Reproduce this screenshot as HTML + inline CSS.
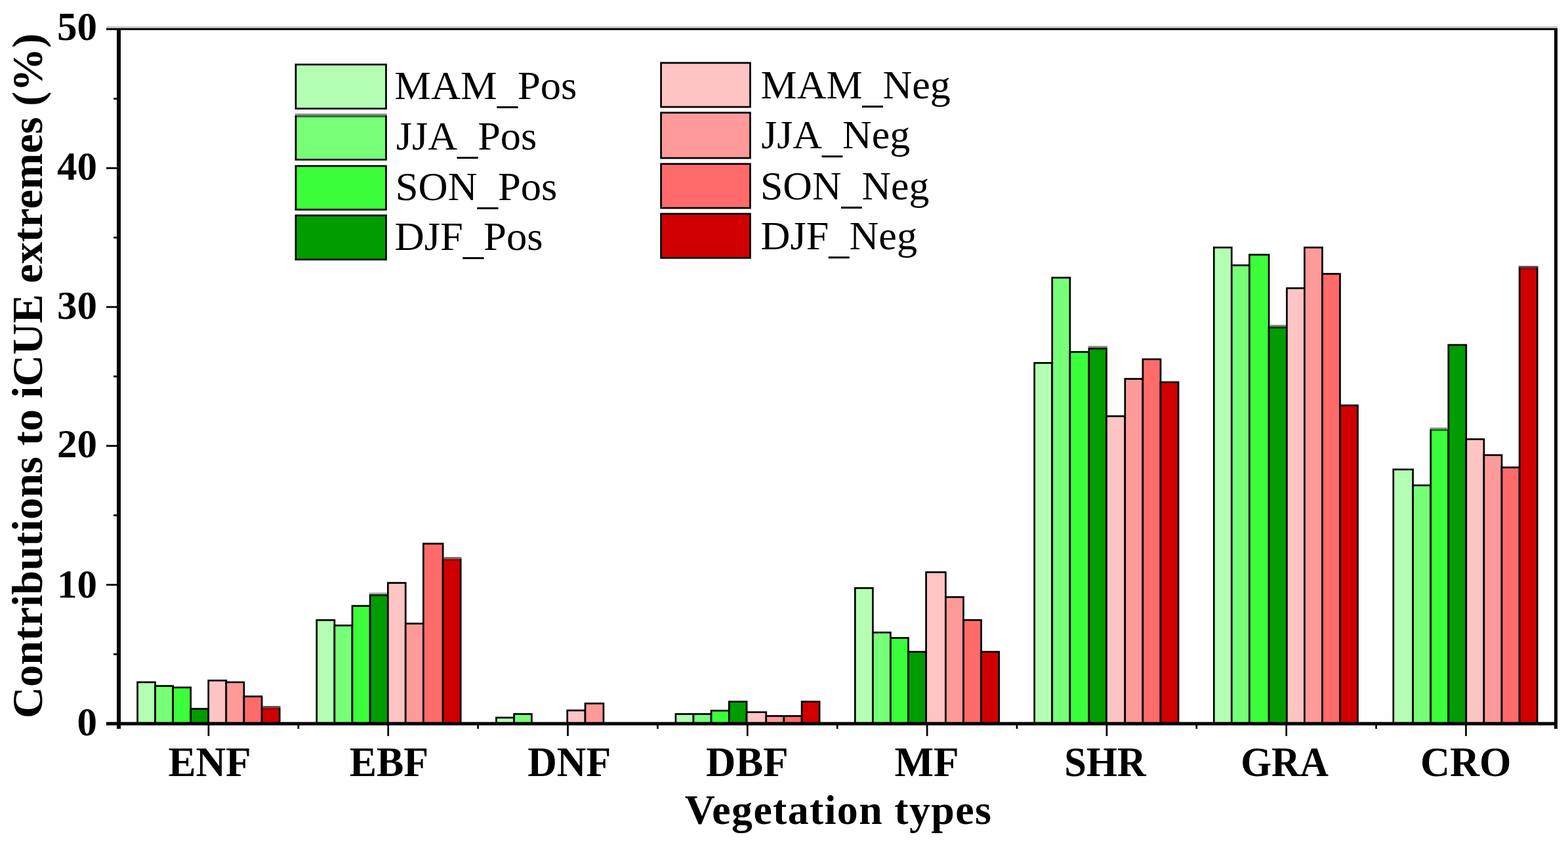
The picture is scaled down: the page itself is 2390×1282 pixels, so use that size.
<!DOCTYPE html>
<html><head><meta charset="utf-8"><title>Contributions to iCUE extremes</title>
<style>
html,body{margin:0;padding:0;background:#fff;}
body{width:2390px;height:1282px;overflow:hidden;}
svg{display:block;}
text{font-family:"Liberation Serif",serif;fill:#000;}
</style></head><body>
<svg width="2390" height="1282" viewBox="0 0 2390 1282">
<rect x="0" y="0" width="2390" height="1282" fill="#fff"/>
<rect x="209.55" y="1039.95" width="27.05" height="62.85" fill="#b4ffb4" stroke="#000" stroke-width="2.7"/>
<rect x="236.60" y="1045.65" width="27.00" height="57.15" fill="#78ff78" stroke="#000" stroke-width="2.7"/>
<rect x="263.60" y="1047.95" width="27.10" height="54.85" fill="#3cff3c" stroke="#000" stroke-width="2.7"/>
<rect x="290.70" y="1080.55" width="27.00" height="22.25" fill="#009c00" stroke="#000" stroke-width="2.7"/>
<rect x="317.70" y="1037.35" width="27.10" height="65.45" fill="#ffc4c4" stroke="#000" stroke-width="2.7"/>
<rect x="344.80" y="1039.95" width="27.10" height="62.85" fill="#ff9a9a" stroke="#000" stroke-width="2.7"/>
<rect x="371.90" y="1061.65" width="27.20" height="41.15" fill="#ff6b6b" stroke="#000" stroke-width="2.7"/>
<rect x="399.10" y="1080.15" width="27.10" height="22.65" fill="#d00000" stroke="#000" stroke-width="2.7"/>
<rect x="482.70" y="945.25" width="27.20" height="157.55" fill="#b4ffb4" stroke="#000" stroke-width="2.7"/>
<rect x="509.90" y="953.45" width="27.10" height="149.35" fill="#78ff78" stroke="#000" stroke-width="2.7"/>
<rect x="537.00" y="923.65" width="27.10" height="179.15" fill="#3cff3c" stroke="#000" stroke-width="2.7"/>
<rect x="564.10" y="907.15" width="27.20" height="195.65" fill="#009c00" stroke="#000" stroke-width="2.7"/>
<rect x="591.30" y="888.55" width="26.90" height="214.25" fill="#ffc4c4" stroke="#000" stroke-width="2.7"/>
<rect x="618.20" y="950.55" width="27.10" height="152.25" fill="#ff9a9a" stroke="#000" stroke-width="2.7"/>
<rect x="645.30" y="828.75" width="29.80" height="274.05" fill="#ff6b6b" stroke="#000" stroke-width="2.7"/>
<rect x="675.10" y="852.95" width="27.10" height="249.85" fill="#d00000" stroke="#000" stroke-width="2.7"/>
<rect x="756.45" y="1093.95" width="27.15" height="8.85" fill="#b4ffb4" stroke="#000" stroke-width="2.7"/>
<rect x="783.60" y="1088.45" width="26.80" height="14.35" fill="#78ff78" stroke="#000" stroke-width="2.7"/>
<rect x="864.70" y="1082.95" width="27.30" height="19.85" fill="#ffc4c4" stroke="#000" stroke-width="2.7"/>
<rect x="892.00" y="1072.35" width="27.90" height="30.45" fill="#ff9a9a" stroke="#000" stroke-width="2.7"/>
<rect x="1029.90" y="1088.45" width="27.10" height="14.35" fill="#b4ffb4" stroke="#000" stroke-width="2.7"/>
<rect x="1057.00" y="1088.45" width="27.10" height="14.35" fill="#78ff78" stroke="#000" stroke-width="2.7"/>
<rect x="1084.10" y="1083.25" width="27.20" height="19.55" fill="#3cff3c" stroke="#000" stroke-width="2.7"/>
<rect x="1111.30" y="1069.55" width="26.80" height="33.25" fill="#009c00" stroke="#000" stroke-width="2.7"/>
<rect x="1138.10" y="1085.65" width="29.70" height="17.15" fill="#ffc4c4" stroke="#000" stroke-width="2.7"/>
<rect x="1167.80" y="1091.45" width="27.10" height="11.35" fill="#ff9a9a" stroke="#000" stroke-width="2.7"/>
<rect x="1194.90" y="1091.45" width="27.20" height="11.35" fill="#ff6b6b" stroke="#000" stroke-width="2.7"/>
<rect x="1222.10" y="1069.55" width="27.00" height="33.25" fill="#d00000" stroke="#000" stroke-width="2.7"/>
<rect x="1303.30" y="896.45" width="27.10" height="206.35" fill="#b4ffb4" stroke="#000" stroke-width="2.7"/>
<rect x="1330.40" y="964.15" width="27.00" height="138.65" fill="#78ff78" stroke="#000" stroke-width="2.7"/>
<rect x="1357.40" y="972.45" width="27.10" height="130.35" fill="#3cff3c" stroke="#000" stroke-width="2.7"/>
<rect x="1384.50" y="993.65" width="27.10" height="109.15" fill="#009c00" stroke="#000" stroke-width="2.7"/>
<rect x="1411.60" y="872.25" width="29.80" height="230.55" fill="#ffc4c4" stroke="#000" stroke-width="2.7"/>
<rect x="1441.40" y="910.15" width="27.10" height="192.65" fill="#ff9a9a" stroke="#000" stroke-width="2.7"/>
<rect x="1468.50" y="945.15" width="27.10" height="157.65" fill="#ff6b6b" stroke="#000" stroke-width="2.7"/>
<rect x="1495.60" y="993.65" width="27.10" height="109.15" fill="#d00000" stroke="#000" stroke-width="2.7"/>
<rect x="1576.70" y="553.25" width="27.05" height="549.55" fill="#b4ffb4" stroke="#000" stroke-width="2.7"/>
<rect x="1603.75" y="423.25" width="27.15" height="679.55" fill="#78ff78" stroke="#000" stroke-width="2.7"/>
<rect x="1630.90" y="536.55" width="29.00" height="566.25" fill="#3cff3c" stroke="#000" stroke-width="2.7"/>
<rect x="1659.90" y="531.25" width="26.60" height="571.55" fill="#009c00" stroke="#000" stroke-width="2.7"/>
<rect x="1686.50" y="634.45" width="28.30" height="468.35" fill="#ffc4c4" stroke="#000" stroke-width="2.7"/>
<rect x="1714.80" y="577.55" width="27.10" height="525.25" fill="#ff9a9a" stroke="#000" stroke-width="2.7"/>
<rect x="1741.90" y="547.65" width="27.10" height="555.15" fill="#ff6b6b" stroke="#000" stroke-width="2.7"/>
<rect x="1769.00" y="582.65" width="27.10" height="520.15" fill="#d00000" stroke="#000" stroke-width="2.7"/>
<rect x="1850.30" y="377.25" width="27.00" height="725.55" fill="#b4ffb4" stroke="#000" stroke-width="2.7"/>
<rect x="1877.30" y="404.45" width="27.10" height="698.35" fill="#78ff78" stroke="#000" stroke-width="2.7"/>
<rect x="1904.40" y="388.25" width="29.70" height="714.55" fill="#3cff3c" stroke="#000" stroke-width="2.7"/>
<rect x="1934.10" y="499.05" width="27.30" height="603.75" fill="#009c00" stroke="#000" stroke-width="2.7"/>
<rect x="1961.40" y="439.35" width="27.00" height="663.45" fill="#ffc4c4" stroke="#000" stroke-width="2.7"/>
<rect x="1988.40" y="377.25" width="27.10" height="725.55" fill="#ff9a9a" stroke="#000" stroke-width="2.7"/>
<rect x="2015.50" y="417.45" width="27.00" height="685.35" fill="#ff6b6b" stroke="#000" stroke-width="2.7"/>
<rect x="2042.50" y="617.95" width="27.00" height="484.85" fill="#d00000" stroke="#000" stroke-width="2.7"/>
<rect x="2123.80" y="715.65" width="29.80" height="387.15" fill="#b4ffb4" stroke="#000" stroke-width="2.7"/>
<rect x="2153.60" y="739.85" width="27.10" height="362.95" fill="#78ff78" stroke="#000" stroke-width="2.7"/>
<rect x="2180.70" y="655.65" width="27.10" height="447.15" fill="#3cff3c" stroke="#000" stroke-width="2.7"/>
<rect x="2207.80" y="525.85" width="27.00" height="576.95" fill="#009c00" stroke="#000" stroke-width="2.7"/>
<rect x="2234.80" y="669.55" width="27.10" height="433.25" fill="#ffc4c4" stroke="#000" stroke-width="2.7"/>
<rect x="2261.90" y="693.75" width="27.10" height="409.05" fill="#ff9a9a" stroke="#000" stroke-width="2.7"/>
<rect x="2289.00" y="712.55" width="27.10" height="390.25" fill="#ff6b6b" stroke="#000" stroke-width="2.7"/>
<rect x="2316.10" y="409.35" width="27.10" height="693.45" fill="#d00000" stroke="#000" stroke-width="2.7"/>
<rect x="400.45" y="1076.20" width="27.10" height="2.60" fill="#4a4a42"/>
<rect x="400.45" y="1078.80" width="24.40" height="2.70" fill="#a00a10"/>
<rect x="562.75" y="903.20" width="27.20" height="2.60" fill="#b0aaaa"/>
<rect x="565.45" y="905.80" width="24.50" height="2.70" fill="#002800"/>
<rect x="676.45" y="849.00" width="27.10" height="2.60" fill="#777777"/>
<rect x="676.45" y="851.60" width="24.40" height="2.70" fill="#8a1a10"/>
<rect x="1658.55" y="527.30" width="29.30" height="2.60" fill="#8a8a82"/>
<rect x="1661.25" y="529.90" width="23.90" height="2.70" fill="#0a200a"/>
<rect x="1935.45" y="495.10" width="24.60" height="2.60" fill="#8a8a82"/>
<rect x="1935.45" y="497.70" width="24.60" height="2.70" fill="#004000"/>
<rect x="2179.35" y="651.70" width="27.10" height="2.60" fill="#9090a0"/>
<rect x="2182.05" y="654.30" width="24.40" height="2.70" fill="#108010"/>
<rect x="2314.75" y="405.40" width="29.80" height="2.60" fill="#454a40"/>
<rect x="2317.45" y="408.00" width="24.40" height="2.70" fill="#a00810"/>
<rect x="162.00" y="40.20" width="2212.00" height="2.80" fill="#c4c4c4"/>
<rect x="162.00" y="43.00" width="2212.00" height="2.90" fill="#000"/>
<rect x="178.00" y="43.00" width="6.00" height="1068.00" fill="#000"/>
<rect x="2369.00" y="43.00" width="5.00" height="1068.00" fill="#000"/>
<rect x="162.00" y="1100.60" width="2212.00" height="5.10" fill="#000"/>
<rect x="162.00" y="890.00" width="16.00" height="2.80" fill="#000"/>
<rect x="162.00" y="678.30" width="16.00" height="2.80" fill="#000"/>
<rect x="162.00" y="466.60" width="16.00" height="2.80" fill="#000"/>
<rect x="162.00" y="254.90" width="16.00" height="2.80" fill="#000"/>
<rect x="173.00" y="995.85" width="5.00" height="2.80" fill="#000"/>
<rect x="173.00" y="784.15" width="5.00" height="2.80" fill="#000"/>
<rect x="173.00" y="572.45" width="5.00" height="2.80" fill="#000"/>
<rect x="173.00" y="360.75" width="5.00" height="2.80" fill="#000"/>
<rect x="173.00" y="149.05" width="5.00" height="2.80" fill="#000"/>
<rect x="316.55" y="1105.00" width="2.70" height="17.00" fill="#000"/>
<rect x="590.35" y="1105.00" width="2.70" height="17.00" fill="#000"/>
<rect x="864.15" y="1105.00" width="2.70" height="17.00" fill="#000"/>
<rect x="1137.95" y="1105.00" width="2.70" height="17.00" fill="#000"/>
<rect x="1411.75" y="1105.00" width="2.70" height="17.00" fill="#000"/>
<rect x="1685.55" y="1105.00" width="2.70" height="17.00" fill="#000"/>
<rect x="1959.35" y="1105.00" width="2.70" height="17.00" fill="#000"/>
<rect x="2233.15" y="1105.00" width="2.70" height="17.00" fill="#000"/>
<rect x="453.45" y="1105.00" width="2.70" height="6.00" fill="#000"/>
<rect x="727.25" y="1105.00" width="2.70" height="6.00" fill="#000"/>
<rect x="1001.05" y="1105.00" width="2.70" height="6.00" fill="#000"/>
<rect x="1274.85" y="1105.00" width="2.70" height="6.00" fill="#000"/>
<rect x="1548.65" y="1105.00" width="2.70" height="6.00" fill="#000"/>
<rect x="1822.45" y="1105.00" width="2.70" height="6.00" fill="#000"/>
<rect x="2096.25" y="1105.00" width="2.70" height="6.00" fill="#000"/>
<rect x="450.85" y="98.35" width="137.60" height="67.20" fill="#b4ffb4" stroke="#000" stroke-width="2.7"/>
<rect x="450.85" y="177.05" width="137.60" height="66.30" fill="#78ff78" stroke="#000" stroke-width="2.7"/>
<rect x="449.50" y="173.10" width="140.30" height="2.60" fill="#9090a0"/>
<rect x="452.20" y="175.70" width="134.90" height="2.70" fill="#306a30"/>
<rect x="450.85" y="253.05" width="137.60" height="66.50" fill="#3cff3c" stroke="#000" stroke-width="2.7"/>
<rect x="450.85" y="328.35" width="137.60" height="67.30" fill="#009c00" stroke="#000" stroke-width="2.7"/>
<rect x="1007.55" y="95.85" width="135.90" height="67.20" fill="#ffc4c4" stroke="#000" stroke-width="2.7"/>
<rect x="1007.55" y="171.75" width="135.90" height="69.20" fill="#ff9a9a" stroke="#000" stroke-width="2.7"/>
<rect x="1007.55" y="249.85" width="135.90" height="67.20" fill="#ff6b6b" stroke="#000" stroke-width="2.7"/>
<rect x="1007.55" y="325.95" width="135.90" height="67.20" fill="#d00000" stroke="#000" stroke-width="2.7"/>
<text x="148" y="1121.2" text-anchor="end" font-weight="bold" font-size="61">0</text>
<text x="148" y="910.5" text-anchor="end" font-weight="bold" font-size="61">10</text>
<text x="148" y="697.0" text-anchor="end" font-weight="bold" font-size="61">20</text>
<text x="148" y="486.0" text-anchor="end" font-weight="bold" font-size="61">30</text>
<text x="148" y="273.5" text-anchor="end" font-weight="bold" font-size="61">40</text>
<text x="148" y="61.3" text-anchor="end" font-weight="bold" font-size="61">50</text>
<g transform="matrix(1.01000,0,0,1,-1.570,0)"><text x="317.90" y="1182.7" text-anchor="middle" font-weight="bold" font-size="62.5">ENF</text></g>
<g transform="matrix(0.99145,0,0,1,6.347,0)"><text x="591.70" y="1182.7" text-anchor="middle" font-weight="bold" font-size="62.5">EBF</text></g>
<g transform="matrix(0.98800,0,0,1,12.624,0)"><text x="865.50" y="1182.7" text-anchor="middle" font-weight="bold" font-size="62.5">DNF</text></g>
<g transform="matrix(1.00496,0,0,1,-6.145,0)"><text x="1139.30" y="1182.7" text-anchor="middle" font-weight="bold" font-size="62.5">DBF</text></g>
<g transform="matrix(1.01075,0,0,1,-15.788,0)"><text x="1413.10" y="1182.7" text-anchor="middle" font-weight="bold" font-size="62.5">MF</text></g>
<g transform="matrix(0.96825,0,0,1,51.219,0)"><text x="1686.90" y="1182.7" text-anchor="middle" font-weight="bold" font-size="62.5">SHR</text></g>
<g transform="matrix(0.96324,0,0,1,69.432,0)"><text x="1960.70" y="1182.7" text-anchor="middle" font-weight="bold" font-size="62.5">GRA</text></g>
<g transform="matrix(0.99624,0,0,1,8.150,0)"><text x="2234.50" y="1182.7" text-anchor="middle" font-weight="bold" font-size="62.5">CRO</text></g>
<g transform="matrix(0.99722,0,0,1,4.801,0)"><text x="1276.7" y="1256.4" text-anchor="middle" font-weight="bold" font-size="64" letter-spacing="1.4">Vegetation types</text></g>
<text transform="translate(64,573) rotate(-90)" x="0" y="0" text-anchor="middle" font-weight="bold" font-size="66.5">Contributions to iCUE extremes (%)</text>
<g transform="matrix(1.00923,0,0,1,-7.281,0)"><text x="603" y="151.3" font-size="62">MAM<tspan dy="6">_</tspan><tspan dy="-6">Pos</tspan></text></g>
<g transform="matrix(1.00429,0,0,1,-1.889,0)"><text x="603" y="228.2" font-size="62">JJA<tspan dy="6">_</tspan><tspan dy="-6">Pos</tspan></text></g>
<g transform="matrix(1.00882,0,0,1,-5.656,0)"><text x="603" y="304.8" font-size="62">SON<tspan dy="6">_</tspan><tspan dy="-6">Pos</tspan></text></g>
<g transform="matrix(1.00955,0,0,1,-7.275,0)"><text x="603" y="380.9" font-size="62">DJF<tspan dy="6">_</tspan><tspan dy="-6">Pos</tspan></text></g>
<g transform="matrix(1.00000,0,0,1,-1.000,0)"><text x="1160.5" y="150.2" font-size="62">MAM<tspan dy="6">_</tspan><tspan dy="-6">Neg</tspan></text></g>
<g transform="matrix(0.99867,0,0,1,1.249,0)"><text x="1160.5" y="225.9" font-size="62">JJA<tspan dy="6">_</tspan><tspan dy="-6">Neg</tspan></text></g>
<g transform="matrix(0.99644,0,0,1,2.644,0)"><text x="1160.5" y="303.8" font-size="62">SON<tspan dy="6">_</tspan><tspan dy="-6">Neg</tspan></text></g>
<g transform="matrix(1.00383,0,0,1,-5.450,0)"><text x="1160.5" y="379.9" font-size="62">DJF<tspan dy="6">_</tspan><tspan dy="-6">Neg</tspan></text></g>
</svg>
</body></html>
